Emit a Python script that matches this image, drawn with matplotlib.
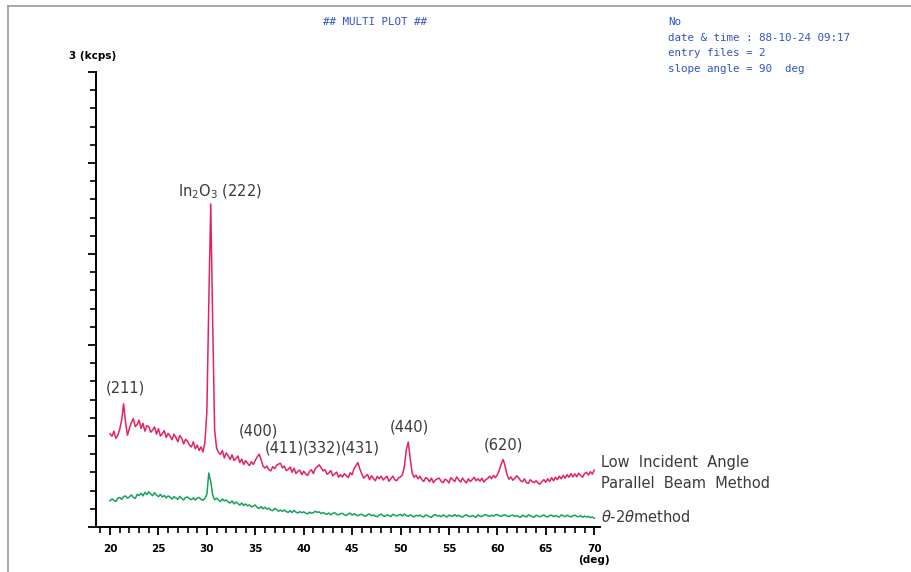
import matplotlib.pyplot as plt
from matplotlib.lines import Line2D
from matplotlib.ticker import MultipleLocator
import numpy as np

# 2-theta sampling grid (deg), 0.2 deg step
two_theta = np.round(np.arange(20.0, 70.0001, 0.2), 1)

# Low incident angle parallel beam method (cps)
lia_cps = [
    615, 598, 632, 585, 604, 645, 705, 812, 690, 605,   # 20.0 - 21.8
    650, 688, 715, 662, 676, 705, 650, 684, 632, 668,   # 22.0 - 23.8
    662, 625, 640, 660, 612, 648, 600, 615, 636, 590,   # 24.0 - 25.8
    618, 600, 575, 612, 590, 562, 603, 585, 548, 578,   # 26.0 - 27.8
    566, 540, 528, 562, 515, 540, 505, 528, 495, 560,   # 28.0 - 29.8
    760, 1480, 2130, 1350, 640, 520, 492, 478, 505, 455,  # 30.0 - 31.8
    488, 470, 445, 476, 438, 452, 468, 425, 448, 412,   # 32.0 - 33.8
    438, 420, 405, 430, 412, 440, 462, 480, 445, 402,   # 34.0 - 35.8
    388, 402, 378, 370, 398, 385, 405, 415, 420, 390,   # 36.0 - 37.8
    402, 372, 380, 395, 360, 388, 352, 368, 375, 345,   # 38.0 - 39.8
    368, 350, 340, 366, 378, 352, 385, 398, 410, 390,   # 40.0 - 41.8
    370, 378, 348, 356, 372, 338, 350, 362, 328, 345,   # 42.0 - 43.8
    330, 352, 338, 325, 358, 345, 385, 405, 425, 382,   # 44.0 - 45.8
    350, 322, 335, 346, 312, 338, 320, 305, 334, 318,   # 46.0 - 47.8
    335, 310, 322, 335, 302, 318, 336, 312, 305, 325,   # 48.0 - 49.8
    330, 345, 400, 510, 560, 450, 355, 328, 342, 318,   # 50.0 - 51.8
    335, 312, 300, 326, 318, 298, 322, 292, 310, 318,   # 52.0 - 53.8
    322, 300, 292, 315, 308, 290, 325, 312, 300, 330,   # 54.0 - 55.8
    312, 296, 322, 305, 290, 318, 300, 312, 328, 305,   # 56.0 - 57.8
    318, 302, 322, 296, 312, 320, 335, 318, 340, 325,   # 58.0 - 59.8
    345, 375, 415, 445, 400, 345, 315, 330, 308, 322,   # 60.0 - 61.8
    338, 325, 305, 298, 318, 292, 288, 312, 300, 292,   # 62.0 - 63.8
    305, 290, 282, 300, 312, 295, 318, 300, 325, 305,   # 64.0 - 65.8
    328, 312, 335, 318, 340, 322, 345, 328, 352, 330,   # 66.0 - 67.8
    350, 332, 355, 340, 328, 352, 360, 342, 365, 348,   # 68.0 - 69.8
    375,                                                # 70.0
]

# conventional theta-2theta method (cps)
t2t_cps = [
    172, 185, 176, 168, 190, 195, 182, 200, 205, 190,   # 20.0 - 21.8
    198, 212, 195, 188, 215, 208, 222, 205, 228, 214,   # 22.0 - 23.8
    232, 218, 206, 226, 210, 200, 215, 198, 208, 192,   # 24.0 - 25.8
    205, 196, 184, 200, 192, 182, 202, 188, 178, 195,   # 26.0 - 27.8
    198, 186, 180, 192, 178, 190, 195, 182, 176, 190,   # 28.0 - 29.8
    215, 356, 300, 210, 180, 190, 178, 168, 185, 172,   # 30.0 - 31.8
    178, 165, 158, 172, 152, 165, 155, 145, 158, 142,   # 32.0 - 33.8
    152, 140, 146, 132, 138, 145, 128, 122, 135, 120,   # 34.0 - 35.8
    130, 118, 124, 112, 108, 122, 115, 104, 112, 102,   # 36.0 - 37.8
    112, 102, 96, 108, 95, 110, 98, 92, 102, 94,        # 38.0 - 39.8
    100, 92, 86, 98, 90, 95, 104, 96, 100, 88,          # 40.0 - 41.8
    96, 88, 84, 92, 80, 90, 94, 84, 80, 88,             # 42.0 - 43.8
    90, 80, 76, 86, 92, 78, 88, 80, 74, 82,             # 44.0 - 45.8
    84, 76, 70, 82, 86, 74, 80, 72, 68, 78,             # 46.0 - 47.8
    85, 74, 70, 80, 76, 68, 84, 78, 72, 80,             # 48.0 - 49.8
    82, 72, 86, 76, 70, 80, 74, 66, 78, 72,             # 50.0 - 51.8
    78, 70, 66, 80, 74, 68, 64, 78, 82, 72,             # 52.0 - 53.8
    76, 68, 80, 72, 66, 78, 74, 70, 82, 70,             # 54.0 - 55.8
    78, 70, 66, 75, 80, 72, 68, 76, 70, 64,             # 56.0 - 57.8
    80, 72, 68, 78, 82, 74, 70, 78, 72, 80,             # 58.0 - 59.8
    82, 74, 70, 78, 80, 72, 68, 76, 78, 70,             # 60.0 - 61.8
    76, 68, 65, 78, 72, 66, 80, 74, 70, 64,             # 62.0 - 63.8
    78, 72, 68, 74, 80, 70, 66, 76, 78, 68,             # 64.0 - 65.8
    75, 70, 66, 80, 74, 68, 78, 72, 66, 74,             # 66.0 - 67.8
    78, 70, 68, 75, 64, 72, 66, 70, 62, 66,             # 68.0 - 69.8
    58,                                                 # 70.0
]

# reflection labels: text, 2theta position, label baseline height (cps)
peak_labels = ['(211)', '(400)', '(411)', '(332)', '(431)', '(440)', '(620)']
peak_pos = [21.6, 35.3, 38.0, 41.9, 45.8, 50.9, 60.6]
peak_label_y = [865, 585, 470, 470, 470, 610, 490]

W, H = 911, 572
fig = plt.figure(figsize=(W / 100, H / 100), dpi=100)
fig.patch.set_facecolor('white')

def fx(px):
    return px / W

def fy(py):
    return 1 - py / H

ax = fig.add_axes([fx(96), fy(527), (600 - 96) / W, (527 - 72) / H])

red = '#e3245c'
green = '#17a05e'
ax.plot(two_theta, lia_cps, color=red, lw=1.1)
ax.plot(two_theta, t2t_cps, color=green, lw=1.1)

ax.set_xlim(18.55, 70.6)
ax.set_ylim(0, 3000)
ax.xaxis.set_major_locator(MultipleLocator(5))
ax.xaxis.set_minor_locator(MultipleLocator(1))
ax.yaxis.set_major_locator(MultipleLocator(600))
ax.yaxis.set_minor_locator(MultipleLocator(120))
ax.tick_params(axis='both', which='major', direction='out', length=6, width=1.3, color='black')
ax.tick_params(axis='both', which='minor', direction='out', length=4, width=1.2, color='black')
ax.tick_params(axis='x', pad=6, labelsize=7.5)
ax.tick_params(axis='y', labelleft=False)
for lbl in ax.get_xticklabels():
    lbl.set_fontweight('bold')
for side in ['top', 'right']:
    ax.spines[side].set_visible(False)
for side in ['left', 'bottom']:
    ax.spines[side].set_linewidth(1.4)
ax.patch.set_alpha(0)

# reflection labels
for txt, xp, yp in zip(peak_labels, peak_pos, peak_label_y):
    ax.text(xp, yp, txt, ha='center', va='bottom', fontsize=10.5, color='#3a3a3a')
ax.text(31.4, 2150, r'In$_2$O$_3$ (222)', ha='center', va='bottom', fontsize=10.5, color='#3a3a3a')

# series names at right end of the traces
fig.text(fx(601), fy(462), 'Low  Incident  Angle', fontsize=10.5, color='#3a3a3a', va='center')
fig.text(fx(601), fy(484), 'Parallel  Beam  Method', fontsize=10.5, color='#3a3a3a', va='center')
fig.text(fx(601), fy(517), r'$\theta$-2$\theta$method', fontsize=10.5, color='#3a3a3a', va='center')

# axis captions
fig.text(fx(93), fy(56), '3 (kcps)', fontsize=7.5, fontweight='bold', ha='center', va='center')
fig.text(fx(594), fy(560), '(deg)', fontsize=7.5, fontweight='bold', ha='center', va='center')

# header block
blue = '#2f55c8'
mono = dict(family='DejaVu Sans Mono', fontsize=7.8, color=blue, va='center')
fig.text(fx(323), fy(22), '## MULTI PLOT ##', **mono)
fig.text(fx(668), fy(22), 'No', **mono)
fig.text(fx(668), fy(38), 'date & time : 88-10-24 09:17', **mono)
fig.text(fx(668), fy(53), 'entry files = 2', **mono)
fig.text(fx(668), fy(69), 'slope angle = 90  deg', **mono)

# page frame
fig.add_artist(Line2D([fx(8), 1], [fy(6), fy(6)], color='#9a9a9a', lw=1.2))
fig.add_artist(Line2D([fx(8), fx(8)], [fy(6), 0], color='#9a9a9a', lw=1.2))

fig.savefig('out.png', dpi=100, facecolor='white')
